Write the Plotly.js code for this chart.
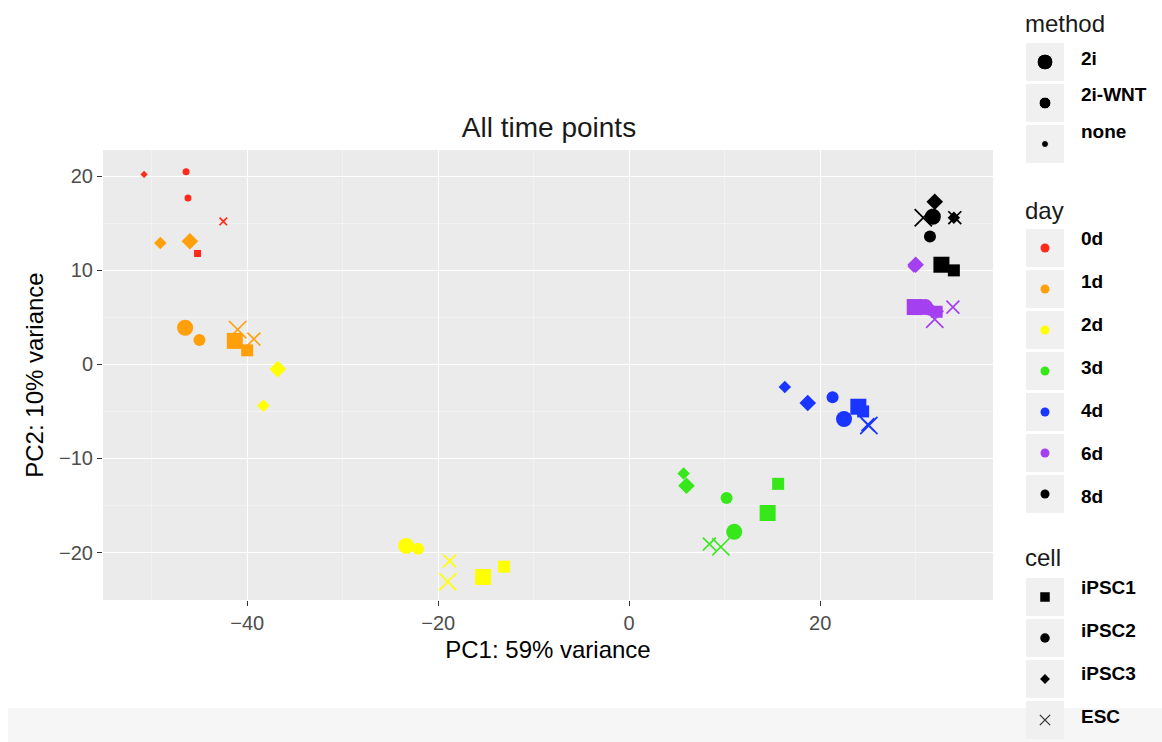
<!DOCTYPE html>
<html>
<head>
<meta charset="utf-8">
<script src="https://cdn.plot.ly/plotly-3.0.1.min.js"></script>
<style>
  html, body { margin: 0; padding: 0; background: #ffffff; }
  #chart { width: 1162px; height: 742px; }
</style>
</head>
<body>
<div id="chart"></div>
<script>
// PCA scores per sample
const pc1 = [
  -50.8, -46.4, -46.2, -42.5, -45.2,
  -49.1, -46.0, -46.5, -45.0, -41.3, -40.0, -41.0, -39.3,
  -36.8, -38.3, -23.35, -22.1, -19.0, -18.8, -15.3, -13.1,
  5.7, 6.0, 10.2, 11.0, 15.6, 14.5, 8.4, 9.6,
  16.3, 18.7, 21.3, 22.5, 24.0, 24.5, 25.1, 25.0,
  30.0, 29.8, 29.9, 32.2, 31.0, 31.5, 32.0, 33.9,
  32.0, 34.0, 31.8, 31.5, 32.7, 34.0, 30.8, 34.1
];
const pc2 = [
  20.2, 20.5, 17.7, 15.2, 11.8,
  12.9, 13.1, 3.9, 2.6, 2.5, 1.5, 3.7, 2.7,
  -0.5, -4.4, -19.3, -19.6, -23.1, -20.9, -22.6, -21.5,
  -11.6, -12.9, -14.2, -17.8, -12.7, -15.8, -19.1, -19.4,
  -2.4, -4.1, -3.5, -5.8, -4.5, -5.0, -6.5, -6.4,
  10.6, 10.4, 6.1, 5.6, 6.1, 5.8, 4.8, 6.1,
  17.3, 15.6, 15.7, 13.6, 10.6, 10.0, 15.6, 15.6
];
const sampleDay = [
  '0d','0d','0d','0d','0d',
  '1d','1d','1d','1d','1d','1d','1d','1d',
  '2d','2d','2d','2d','2d','2d','2d','2d',
  '3d','3d','3d','3d','3d','3d','3d','3d',
  '4d','4d','4d','4d','4d','4d','4d','4d',
  '6d','6d','6d','6d','6d','6d','6d','6d',
  '8d','8d','8d','8d','8d','8d','8d','8d'
];
const sampleCell = [
  'iPSC3','iPSC2','iPSC2','ESC','iPSC1',
  'iPSC3','iPSC3','iPSC2','iPSC2','iPSC1','iPSC1','ESC','ESC',
  'iPSC3','iPSC3','iPSC2','iPSC2','ESC','ESC','iPSC1','iPSC1',
  'iPSC3','iPSC3','iPSC2','iPSC2','iPSC1','iPSC1','ESC','ESC',
  'iPSC3','iPSC3','iPSC2','iPSC2','iPSC1','iPSC1','ESC','ESC',
  'iPSC3','iPSC3','iPSC1','iPSC1','iPSC2','iPSC2','ESC','ESC',
  'iPSC3','iPSC3','iPSC2','iPSC2','iPSC1','iPSC1','ESC','ESC'
];
const sampleMethod = [
  'none','none','none','none','none',
  '2i-WNT','2i','2i','2i-WNT','2i','2i-WNT','2i','2i-WNT',
  '2i','2i-WNT','2i','2i-WNT','2i','2i-WNT','2i','2i-WNT',
  '2i-WNT','2i','2i-WNT','2i','2i-WNT','2i','2i-WNT','2i',
  '2i-WNT','2i','2i-WNT','2i','2i','2i-WNT','2i','2i-WNT',
  '2i','2i-WNT','2i','2i-WNT','2i','2i-WNT','2i','2i-WNT',
  '2i','2i-WNT','2i','2i-WNT','2i','2i-WNT','2i','2i-WNT'
];

// Legend levels
const methodLevels = ['2i', '2i-WNT', 'none'];
const dayLevels = ['0d', '1d', '2d', '3d', '4d', '6d', '8d'];
const cellLevels = ['iPSC1', 'iPSC2', 'iPSC3', 'ESC'];

// Styling
const dayColors = {
  '0d': '#ff2a1a', '1d': '#ff9f0a', '2d': '#ffff00', '3d': '#36e81a',
  '4d': '#1a35ff', '6d': '#a440f0', '8d': '#000000'
};
const cellSymbols = { 'iPSC1': 'square', 'iPSC2': 'circle', 'iPSC3': 'diamond', 'ESC': 'x-thin' };
const cellScale = { 'iPSC1': 1.0, 'iPSC2': 1.0, 'iPSC3': 0.8, 'ESC': 1.08 };
const methodSize = { '2i': 16, '2i-WNT': 12, 'none': 7 };

const FONT = 'Liberation Sans, Arial, Helvetica, sans-serif';
const W = 1162, H = 742;

// Sample points, one trace per day so later days draw on top
const traces = dayLevels.map(function (d) {
  const idx = [];
  sampleDay.forEach(function (v, i) { if (v === d) idx.push(i); });
  const col = dayColors[d];
  return {
    type: 'scatter', mode: 'markers', name: d, showlegend: false,
    x: idx.map(i => pc1[i]),
    y: idx.map(i => pc2[i]),
    text: idx.map(i => sampleCell[i] + ' / ' + sampleMethod[i]),
    hoverinfo: 'x+y+text',
    marker: {
      color: col,
      opacity: 1,
      symbol: idx.map(i => cellSymbols[sampleCell[i]]),
      size: idx.map(i => methodSize[sampleMethod[i]] * cellScale[sampleCell[i]]),
      line: {
        color: col,
        width: idx.map(i => sampleCell[i] === 'ESC' ? 1.7 : 0)
      }
    },
    xaxis: 'x', yaxis: 'y'
  };
});

// Legend panel, drawn in a pixel-space overlay axis
const keyX = 1045, labelX = 1081, keyPitch = 41;
const groups = [
  { title: 'method', titleY: 23, firstY: 62, labelY: 60, labelPitch: 36.5, levels: methodLevels },
  { title: 'day', titleY: 210, firstY: 248, labelY: 240, labelPitch: 43, levels: dayLevels },
  { title: 'cell', titleY: 557, firstY: 597, labelY: 589, labelPitch: 43, levels: cellLevels }
];
const keyYs = groups.map(g => g.levels.map((_, i) => g.firstY + i * keyPitch));
const labelYs = groups.map(g => g.levels.map((_, i) => g.labelY + i * g.labelPitch));
const allKeyY = [].concat.apply([], keyYs);
const allLabelY = [].concat.apply([], labelYs);

traces.push({
  type: 'scatter', mode: 'markers', showlegend: false, hoverinfo: 'skip',
  x: allKeyY.map(() => keyX), y: allKeyY,
  marker: { symbol: 'square', size: 38, color: '#f0f0f0', opacity: 1, line: { width: 0 } },
  xaxis: 'x2', yaxis: 'y2'
});
traces.push({
  type: 'scatter', mode: 'markers', showlegend: false, hoverinfo: 'skip',
  x: methodLevels.map(() => keyX), y: keyYs[0],
  marker: { symbol: 'circle', color: '#000000', opacity: 1, size: methodLevels.map(m => methodSize[m]) },
  xaxis: 'x2', yaxis: 'y2'
});
traces.push({
  type: 'scatter', mode: 'markers', showlegend: false, hoverinfo: 'skip',
  x: dayLevels.map(() => keyX), y: keyYs[1],
  marker: { symbol: 'circle', size: 9, opacity: 1, color: dayLevels.map(d => dayColors[d]) },
  xaxis: 'x2', yaxis: 'y2'
});
traces.push({
  type: 'scatter', mode: 'markers', showlegend: false, hoverinfo: 'skip',
  x: cellLevels.map(() => keyX), y: keyYs[2],
  marker: {
    symbol: cellLevels.map(c => cellSymbols[c]),
    size: cellLevels.map(c => 9.5 * cellScale[c]),
    color: '#000000', opacity: 1,
    line: { color: '#333333', width: cellLevels.map(c => c === 'ESC' ? 1.3 : 0) }
  },
  xaxis: 'x2', yaxis: 'y2'
});
traces.push({
  type: 'scatter', mode: 'text', showlegend: false, hoverinfo: 'skip',
  x: allLabelY.map(() => labelX), y: allLabelY,
  text: [].concat(methodLevels, dayLevels, cellLevels).map(t => '<b>' + t + '</b>'),
  textposition: 'middle right',
  textfont: { family: FONT, size: 19, color: '#000000' },
  xaxis: 'x2', yaxis: 'y2'
});

const annotations = groups.map(g => ({
  xref: 'x2', yref: 'y2', x: 1023, y: g.titleY, xanchor: 'left', yanchor: 'middle',
  text: g.title, showarrow: false,
  font: { family: FONT, size: 24, color: '#1a1a1a' }
}));

const layout = {
  width: W, height: H,
  margin: { l: 0, r: 0, t: 0, b: 0 },
  paper_bgcolor: '#ffffff',
  plot_bgcolor: 'rgba(0,0,0,0)',
  showlegend: false,
  font: { family: FONT, color: '#4d4d4d' },
  title: {
    text: 'All time points',
    x: 549 / W, xanchor: 'center',
    y: 1 - 127 / H, yanchor: 'middle',
    font: { family: FONT, size: 28, color: '#1a1a1a' }
  },
  xaxis: {
    domain: [103 / W, 993 / W], anchor: 'y',
    range: [-55.1, 38.1], fixedrange: true,
    tickmode: 'linear', tick0: 0, dtick: 20,
    ticks: 'outside', ticklen: 5, tickwidth: 1.1, tickcolor: '#333333',
    tickfont: { family: FONT, size: 20, color: '#4d4d4d' },
    showgrid: true, gridcolor: '#ffffff', gridwidth: 1.3,
    minor: { dtick: 10, tick0: 0, showgrid: true, gridcolor: '#f7f7f7', gridwidth: 0.6, ticks: '' },
    zeroline: false, showline: false,
    title: { text: 'PC1: 59% variance', font: { family: FONT, size: 24, color: '#000000' }, standoff: 8 }
  },
  yaxis: {
    domain: [1 - 600 / H, 1 - 150 / H], anchor: 'x',
    range: [-25.05, 22.8], fixedrange: true,
    tickmode: 'linear', tick0: 0, dtick: 10,
    ticks: 'outside', ticklen: 5, tickwidth: 1.1, tickcolor: '#333333',
    tickfont: { family: FONT, size: 20, color: '#4d4d4d' },
    showgrid: true, gridcolor: '#ffffff', gridwidth: 1.3,
    minor: { dtick: 5, tick0: 0, showgrid: true, gridcolor: '#f7f7f7', gridwidth: 0.6, ticks: '' },
    zeroline: false, showline: false,
    title: { text: 'PC2: 10% variance', font: { family: FONT, size: 24, color: '#000000' }, standoff: 8 }
  },
  xaxis2: { domain: [0, 1], range: [0, W], visible: false, fixedrange: true, anchor: 'y2' },
  yaxis2: { domain: [0, 1], range: [H, 0], visible: false, fixedrange: true, anchor: 'x2' },
  shapes: [
    { type: 'rect', xref: 'x domain', yref: 'y domain', x0: 0, x1: 1, y0: 0, y1: 1,
      fillcolor: '#ebebeb', line: { width: 0 }, layer: 'below' },
    { type: 'rect', xref: 'paper', yref: 'paper', x0: 8 / W, x1: 1, y0: 0, y1: 34 / H,
      fillcolor: '#f6f6f6', line: { width: 0 }, layer: 'below' }
  ],
  annotations: annotations
};

Plotly.newPlot('chart', traces, layout, { displayModeBar: false, staticPlot: true });
</script>
</body>
</html>
